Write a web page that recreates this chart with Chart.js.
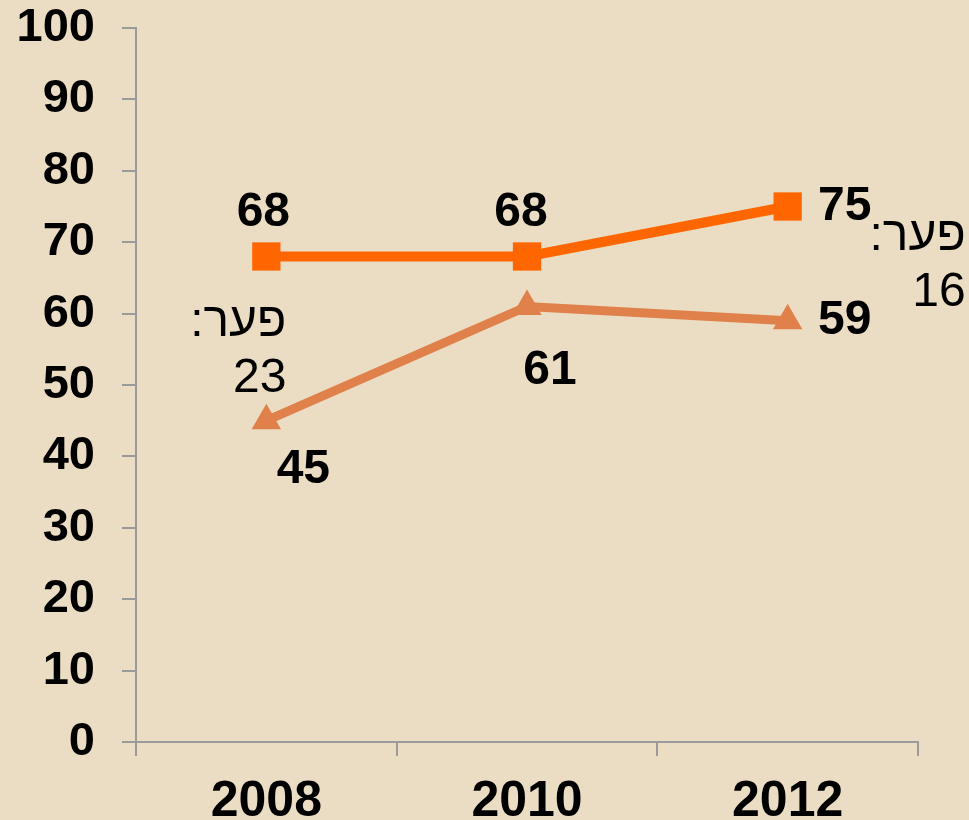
<!DOCTYPE html>
<html>
<head>
<meta charset="utf-8">
<script src="https://cdn.jsdelivr.net/npm/chart.js@4/dist/chart.umd.min.js"></script>
<style>
  html, body { margin: 0; padding: 0; background: #EBDDC3; }
  #wrap { width: 969px; height: 820px; position: relative; }
</style>
</head>
<body>
<div id="wrap"><canvas id="gapChart"></canvas></div>
<script>
const years   = ['2008', '2010', '2012'];
const seriesA = [68, 68, 75];   // squares
const seriesB = [45, 61, 59];   // triangles
const yTicks  = [0, 10, 20, 30, 40, 50, 60, 70, 80, 90, 100];
const gapLabel = 'פער:';
const gapYears = [0, 2];        // where the gap note is shown

// ── Label placement (pixel offsets from each point) ───────
const labelOffsetA = [[-3, -44], [-6, -44], [57, 0]];
const labelOffsetB = [[37, 49], [23, 64], [57, 0]];
const gapOffset    = [[20, 66], [178, 30]];   // [dx, dy] of first line from the square

const font = "'Liberation Sans', Arial, sans-serif";

const valueLabels = {
  id: 'valueLabels',
  afterDatasetsDraw(chart) {
    const { ctx } = chart;
    const offs = [labelOffsetA, labelOffsetB];
    ctx.save();
    ctx.fillStyle = '#000';
    ctx.font = `bold 48px ${font}`;
    ctx.textAlign = 'center';
    ctx.textBaseline = 'middle';
    chart.data.datasets.forEach((ds, di) => {
      chart.getDatasetMeta(di).data.forEach((pt, i) => {
        const [dx, dy] = offs[di][i];
        ctx.fillText(String(ds.data[i]), pt.x + dx, pt.y + dy);
      });
    });

    // gap notes
    const a = chart.getDatasetMeta(0).data;
    ctx.font = `48px ${font}`;
    ctx.textAlign = 'right';
    ctx.direction = 'rtl';
    gapYears.forEach((idx, k) => {
      const gap = seriesA[idx] - seriesB[idx];
      const x = a[idx].x + gapOffset[k][0];
      const y1 = a[idx].y + gapOffset[k][1];
      ctx.fillText(gapLabel, x, y1);
      ctx.fillText(String(gap), x, y1 + 56);
    });
    ctx.restore();
  }
};

new Chart(document.getElementById('gapChart'), {
  type: 'line',
  data: {
    labels: years,
    datasets: [
      {
        data:            seriesA,
        borderColor:     '#FF6600',
        backgroundColor: '#FF6600',
        borderWidth:     10,
        pointStyle:      'rect',
        pointRadius:     20,
        pointBorderWidth: 0,
        tension:         0,
      },
      {
        data:            seriesB,
        borderColor:     '#E0804A',
        backgroundColor: '#E0804A',
        borderWidth:     9,
        pointStyle:      'triangle',
        pointRadius:     17,
        pointBorderWidth: 0,
        tension:         0,
      },
    ],
  },
  options: {
    responsive:          true,
    maintainAspectRatio: false,
    animation:           false,
    layout: { padding: { top: 28, right: 51, left: 0, bottom: 0 } },
    plugins: {
      legend:  { display: false },
      tooltip: { enabled: false },
    },
    scales: {
      x: {
        offset: true,
        grid:   { offset: true, drawOnChartArea: false, drawTicks: true, tickLength: 14, color: '#9A9A9A', lineWidth: 2 },
        border: { color: '#9A9A9A', width: 2 },
        ticks:  { color: '#000', font: { family: font, size: 50, weight: 'bold' }, padding: 16 },
        afterFit: s => { s.height = 78; s.paddingLeft = 0; s.paddingRight = 0; },
      },
      y: {
        min: 0, max: 100,
        afterBuildTicks: s => { s.ticks = yTicks.map(v => ({ value: v })); },
        grid:   { drawOnChartArea: false, drawTicks: true, tickLength: 14, color: '#9A9A9A', lineWidth: 2 },
        border: { color: '#9A9A9A', width: 2 },
        ticks:  { color: '#000', font: { family: font, size: 47, weight: 'bold' }, padding: 27 },
        afterFit: s => { s.width = 136; s.paddingTop = 0; s.paddingBottom = 0; },
      },
    },
  },
  plugins: [valueLabels],
});
</script>
</body>
</html>
